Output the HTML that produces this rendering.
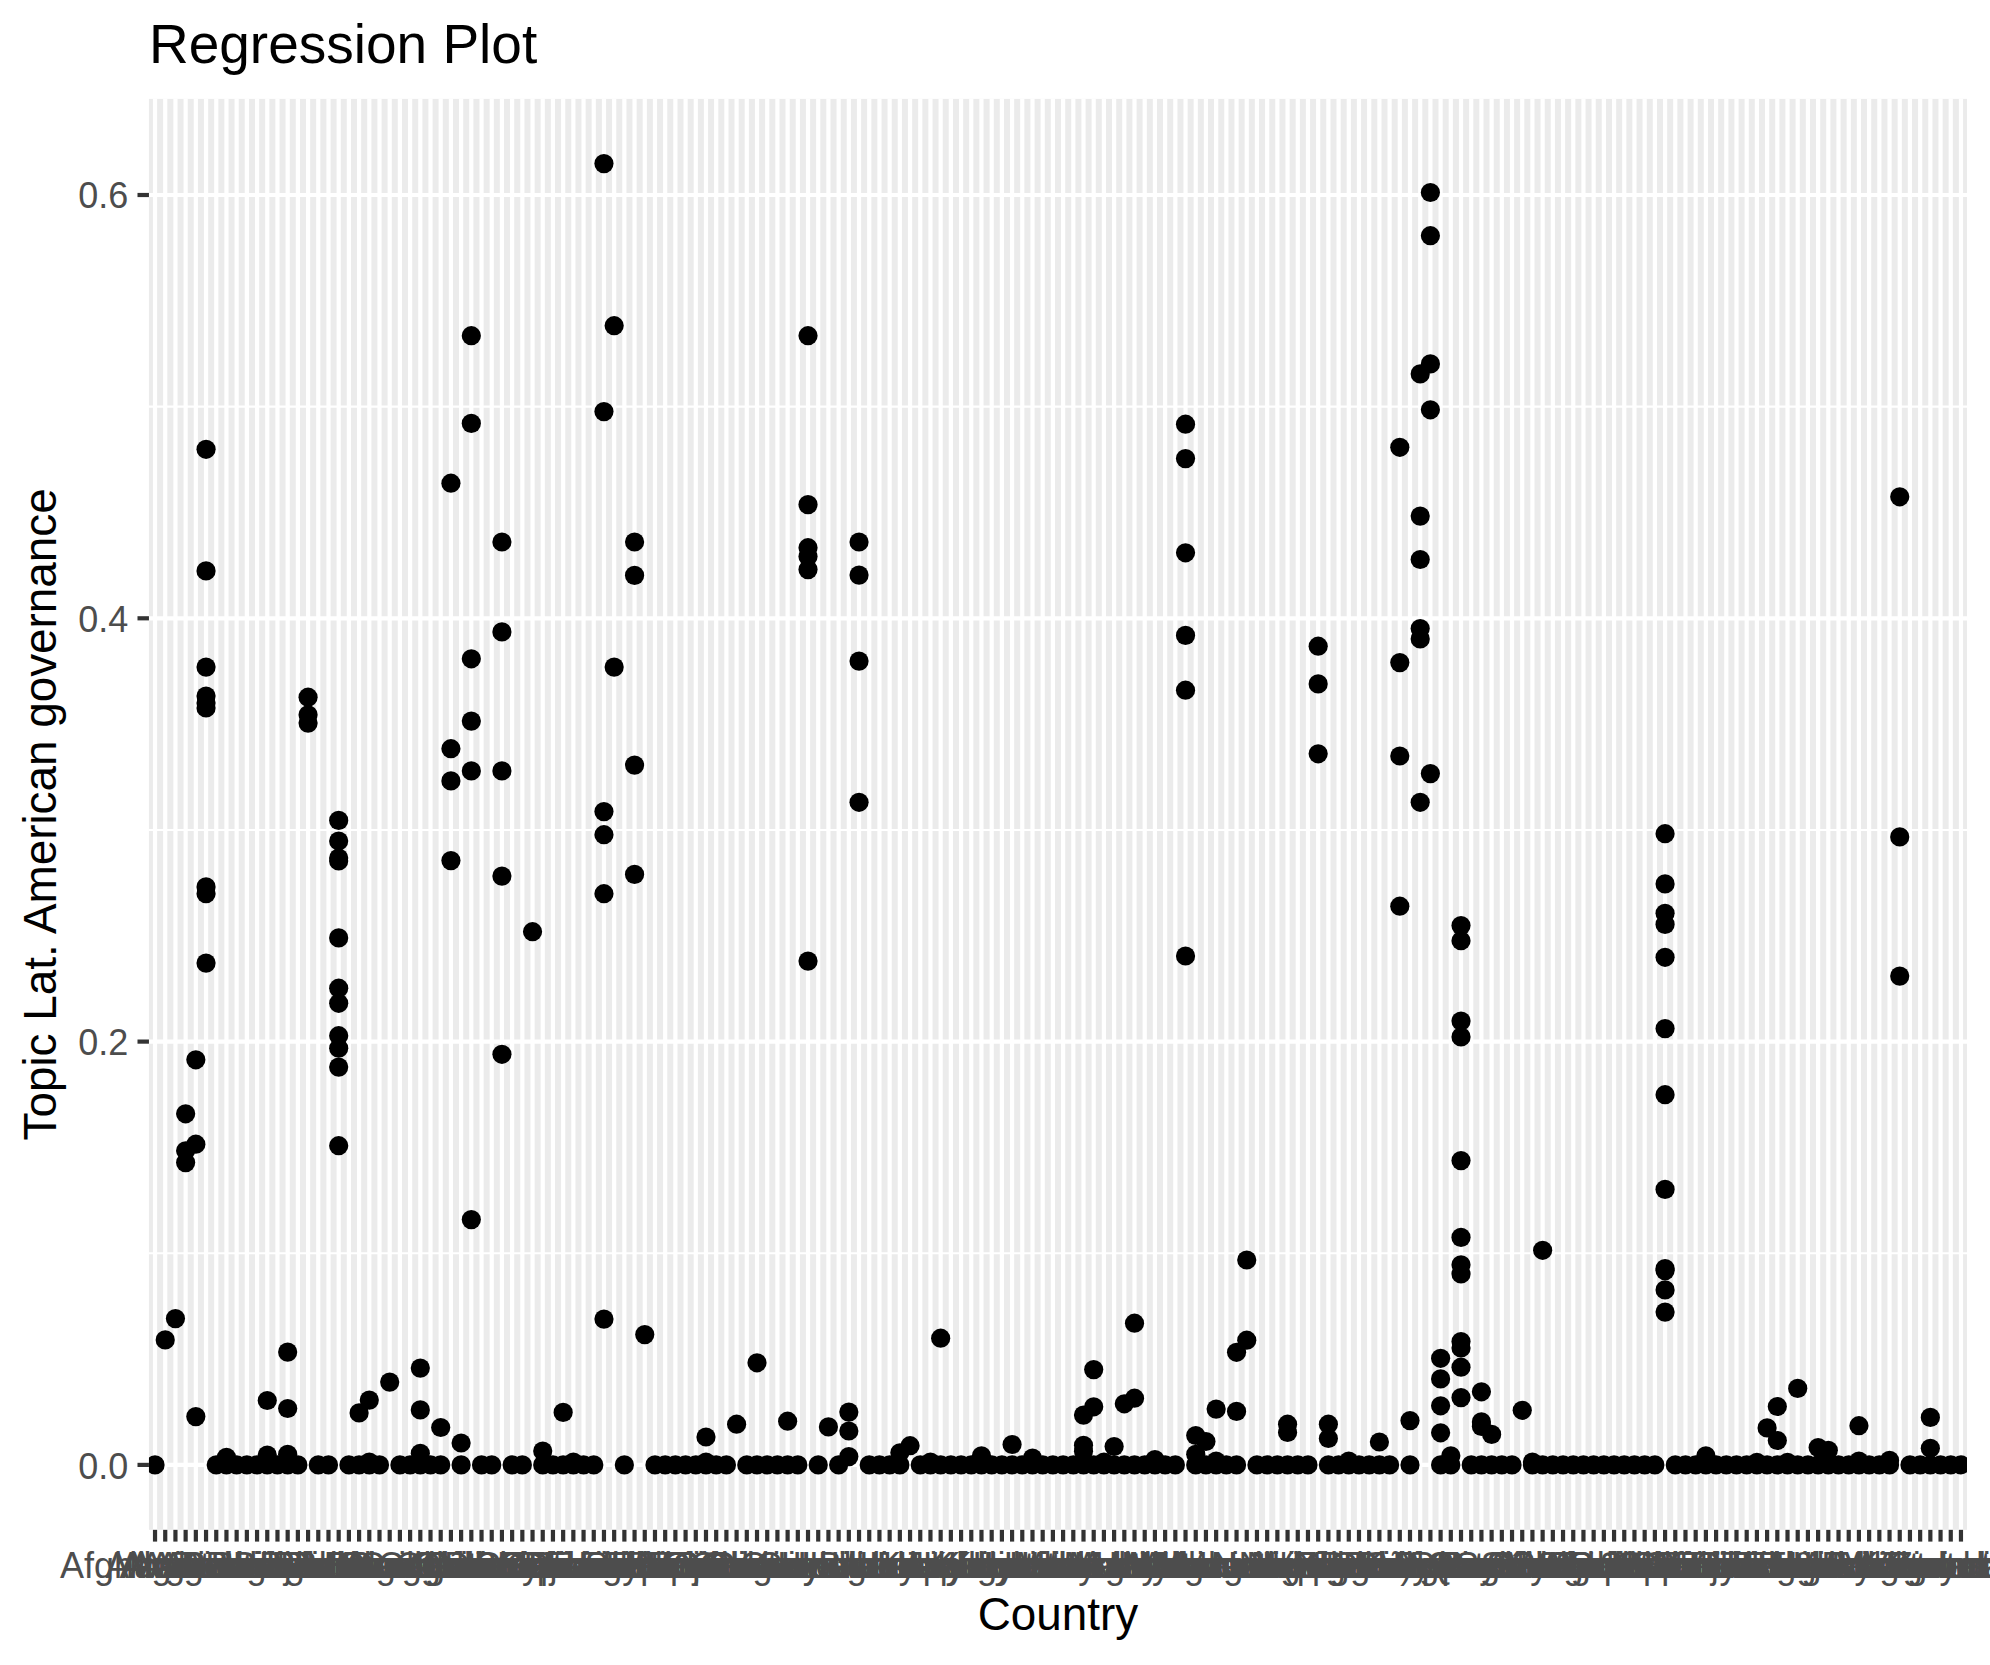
<!DOCTYPE html>
<html lang="en"><head><meta charset="utf-8"><title>Regression Plot</title>
<style>html,body{margin:0;padding:0;background:#fff}svg{display:block}text{font-family:"Liberation Sans",Arial,Helvetica,sans-serif}.xl text{font-size:36px;fill:#4d4d4d;text-anchor:middle}.yl text{font-size:36px;fill:#4d4d4d;text-anchor:end}.ttl{font-size:55px;fill:#000}.ax{font-size:45.83px;fill:#000;text-anchor:middle}</style></head><body>
<svg width="1990" height="1665" viewBox="0 0 1990 1665">
<rect width="1990" height="1665" fill="#fff"/>
<defs><clipPath id="pc"><rect x="148.95" y="98.9" width="1818.05" height="1430.95"/></clipPath></defs>
<rect x="148.95" y="98.9" width="1818.05" height="1430.95" fill="#ebebeb"/>
<g stroke="#fff" stroke-width="2.15">
<line x1="148.95" x2="1967" y1="1253.25" y2="1253.25"/>
<line x1="148.95" x2="1967" y1="829.95" y2="829.95"/>
<line x1="148.95" x2="1967" y1="406.65" y2="406.65"/>
</g>
<g stroke="#fff" stroke-width="4.2">
<line x1="148.95" x2="1967" y1="1464.9" y2="1464.9"/>
<line x1="148.95" x2="1967" y1="1041.6" y2="1041.6"/>
<line x1="148.95" x2="1967" y1="618.3" y2="618.3"/>
<line x1="148.95" x2="1967" y1="195" y2="195"/>
<line x1="155.03" x2="155.03" y1="98.9" y2="1529.85"/>
<line x1="165.23" x2="165.23" y1="98.9" y2="1529.85"/>
<line x1="175.44" x2="175.44" y1="98.9" y2="1529.85"/>
<line x1="185.64" x2="185.64" y1="98.9" y2="1529.85"/>
<line x1="195.84" x2="195.84" y1="98.9" y2="1529.85"/>
<line x1="206.05" x2="206.05" y1="98.9" y2="1529.85"/>
<line x1="216.25" x2="216.25" y1="98.9" y2="1529.85"/>
<line x1="226.45" x2="226.45" y1="98.9" y2="1529.85"/>
<line x1="236.65" x2="236.65" y1="98.9" y2="1529.85"/>
<line x1="246.86" x2="246.86" y1="98.9" y2="1529.85"/>
<line x1="257.06" x2="257.06" y1="98.9" y2="1529.85"/>
<line x1="267.26" x2="267.26" y1="98.9" y2="1529.85"/>
<line x1="277.47" x2="277.47" y1="98.9" y2="1529.85"/>
<line x1="287.67" x2="287.67" y1="98.9" y2="1529.85"/>
<line x1="297.87" x2="297.87" y1="98.9" y2="1529.85"/>
<line x1="308.07" x2="308.07" y1="98.9" y2="1529.85"/>
<line x1="318.28" x2="318.28" y1="98.9" y2="1529.85"/>
<line x1="328.48" x2="328.48" y1="98.9" y2="1529.85"/>
<line x1="338.68" x2="338.68" y1="98.9" y2="1529.85"/>
<line x1="348.89" x2="348.89" y1="98.9" y2="1529.85"/>
<line x1="359.09" x2="359.09" y1="98.9" y2="1529.85"/>
<line x1="369.29" x2="369.29" y1="98.9" y2="1529.85"/>
<line x1="379.5" x2="379.5" y1="98.9" y2="1529.85"/>
<line x1="389.7" x2="389.7" y1="98.9" y2="1529.85"/>
<line x1="399.9" x2="399.9" y1="98.9" y2="1529.85"/>
<line x1="410.11" x2="410.11" y1="98.9" y2="1529.85"/>
<line x1="420.31" x2="420.31" y1="98.9" y2="1529.85"/>
<line x1="430.51" x2="430.51" y1="98.9" y2="1529.85"/>
<line x1="440.71" x2="440.71" y1="98.9" y2="1529.85"/>
<line x1="450.92" x2="450.92" y1="98.9" y2="1529.85"/>
<line x1="461.12" x2="461.12" y1="98.9" y2="1529.85"/>
<line x1="471.32" x2="471.32" y1="98.9" y2="1529.85"/>
<line x1="481.53" x2="481.53" y1="98.9" y2="1529.85"/>
<line x1="491.73" x2="491.73" y1="98.9" y2="1529.85"/>
<line x1="501.93" x2="501.93" y1="98.9" y2="1529.85"/>
<line x1="512.13" x2="512.13" y1="98.9" y2="1529.85"/>
<line x1="522.34" x2="522.34" y1="98.9" y2="1529.85"/>
<line x1="532.54" x2="532.54" y1="98.9" y2="1529.85"/>
<line x1="542.74" x2="542.74" y1="98.9" y2="1529.85"/>
<line x1="552.95" x2="552.95" y1="98.9" y2="1529.85"/>
<line x1="563.15" x2="563.15" y1="98.9" y2="1529.85"/>
<line x1="573.35" x2="573.35" y1="98.9" y2="1529.85"/>
<line x1="583.56" x2="583.56" y1="98.9" y2="1529.85"/>
<line x1="593.76" x2="593.76" y1="98.9" y2="1529.85"/>
<line x1="603.96" x2="603.96" y1="98.9" y2="1529.85"/>
<line x1="614.16" x2="614.16" y1="98.9" y2="1529.85"/>
<line x1="624.37" x2="624.37" y1="98.9" y2="1529.85"/>
<line x1="634.57" x2="634.57" y1="98.9" y2="1529.85"/>
<line x1="644.77" x2="644.77" y1="98.9" y2="1529.85"/>
<line x1="654.98" x2="654.98" y1="98.9" y2="1529.85"/>
<line x1="665.18" x2="665.18" y1="98.9" y2="1529.85"/>
<line x1="675.38" x2="675.38" y1="98.9" y2="1529.85"/>
<line x1="685.59" x2="685.59" y1="98.9" y2="1529.85"/>
<line x1="695.79" x2="695.79" y1="98.9" y2="1529.85"/>
<line x1="705.99" x2="705.99" y1="98.9" y2="1529.85"/>
<line x1="716.19" x2="716.19" y1="98.9" y2="1529.85"/>
<line x1="726.4" x2="726.4" y1="98.9" y2="1529.85"/>
<line x1="736.6" x2="736.6" y1="98.9" y2="1529.85"/>
<line x1="746.8" x2="746.8" y1="98.9" y2="1529.85"/>
<line x1="757.01" x2="757.01" y1="98.9" y2="1529.85"/>
<line x1="767.21" x2="767.21" y1="98.9" y2="1529.85"/>
<line x1="777.41" x2="777.41" y1="98.9" y2="1529.85"/>
<line x1="787.62" x2="787.62" y1="98.9" y2="1529.85"/>
<line x1="797.82" x2="797.82" y1="98.9" y2="1529.85"/>
<line x1="808.02" x2="808.02" y1="98.9" y2="1529.85"/>
<line x1="818.22" x2="818.22" y1="98.9" y2="1529.85"/>
<line x1="828.43" x2="828.43" y1="98.9" y2="1529.85"/>
<line x1="838.63" x2="838.63" y1="98.9" y2="1529.85"/>
<line x1="848.83" x2="848.83" y1="98.9" y2="1529.85"/>
<line x1="859.04" x2="859.04" y1="98.9" y2="1529.85"/>
<line x1="869.24" x2="869.24" y1="98.9" y2="1529.85"/>
<line x1="879.44" x2="879.44" y1="98.9" y2="1529.85"/>
<line x1="889.65" x2="889.65" y1="98.9" y2="1529.85"/>
<line x1="899.85" x2="899.85" y1="98.9" y2="1529.85"/>
<line x1="910.05" x2="910.05" y1="98.9" y2="1529.85"/>
<line x1="920.25" x2="920.25" y1="98.9" y2="1529.85"/>
<line x1="930.46" x2="930.46" y1="98.9" y2="1529.85"/>
<line x1="940.66" x2="940.66" y1="98.9" y2="1529.85"/>
<line x1="950.86" x2="950.86" y1="98.9" y2="1529.85"/>
<line x1="961.07" x2="961.07" y1="98.9" y2="1529.85"/>
<line x1="971.27" x2="971.27" y1="98.9" y2="1529.85"/>
<line x1="981.47" x2="981.47" y1="98.9" y2="1529.85"/>
<line x1="991.68" x2="991.68" y1="98.9" y2="1529.85"/>
<line x1="1001.88" x2="1001.88" y1="98.9" y2="1529.85"/>
<line x1="1012.08" x2="1012.08" y1="98.9" y2="1529.85"/>
<line x1="1022.28" x2="1022.28" y1="98.9" y2="1529.85"/>
<line x1="1032.49" x2="1032.49" y1="98.9" y2="1529.85"/>
<line x1="1042.69" x2="1042.69" y1="98.9" y2="1529.85"/>
<line x1="1052.89" x2="1052.89" y1="98.9" y2="1529.85"/>
<line x1="1063.1" x2="1063.1" y1="98.9" y2="1529.85"/>
<line x1="1073.3" x2="1073.3" y1="98.9" y2="1529.85"/>
<line x1="1083.5" x2="1083.5" y1="98.9" y2="1529.85"/>
<line x1="1093.71" x2="1093.71" y1="98.9" y2="1529.85"/>
<line x1="1103.91" x2="1103.91" y1="98.9" y2="1529.85"/>
<line x1="1114.11" x2="1114.11" y1="98.9" y2="1529.85"/>
<line x1="1124.32" x2="1124.32" y1="98.9" y2="1529.85"/>
<line x1="1134.52" x2="1134.52" y1="98.9" y2="1529.85"/>
<line x1="1144.72" x2="1144.72" y1="98.9" y2="1529.85"/>
<line x1="1154.92" x2="1154.92" y1="98.9" y2="1529.85"/>
<line x1="1165.13" x2="1165.13" y1="98.9" y2="1529.85"/>
<line x1="1175.33" x2="1175.33" y1="98.9" y2="1529.85"/>
<line x1="1185.53" x2="1185.53" y1="98.9" y2="1529.85"/>
<line x1="1195.74" x2="1195.74" y1="98.9" y2="1529.85"/>
<line x1="1205.94" x2="1205.94" y1="98.9" y2="1529.85"/>
<line x1="1216.14" x2="1216.14" y1="98.9" y2="1529.85"/>
<line x1="1226.34" x2="1226.34" y1="98.9" y2="1529.85"/>
<line x1="1236.55" x2="1236.55" y1="98.9" y2="1529.85"/>
<line x1="1246.75" x2="1246.75" y1="98.9" y2="1529.85"/>
<line x1="1256.95" x2="1256.95" y1="98.9" y2="1529.85"/>
<line x1="1267.16" x2="1267.16" y1="98.9" y2="1529.85"/>
<line x1="1277.36" x2="1277.36" y1="98.9" y2="1529.85"/>
<line x1="1287.56" x2="1287.56" y1="98.9" y2="1529.85"/>
<line x1="1297.77" x2="1297.77" y1="98.9" y2="1529.85"/>
<line x1="1307.97" x2="1307.97" y1="98.9" y2="1529.85"/>
<line x1="1318.17" x2="1318.17" y1="98.9" y2="1529.85"/>
<line x1="1328.38" x2="1328.38" y1="98.9" y2="1529.85"/>
<line x1="1338.58" x2="1338.58" y1="98.9" y2="1529.85"/>
<line x1="1348.78" x2="1348.78" y1="98.9" y2="1529.85"/>
<line x1="1358.98" x2="1358.98" y1="98.9" y2="1529.85"/>
<line x1="1369.19" x2="1369.19" y1="98.9" y2="1529.85"/>
<line x1="1379.39" x2="1379.39" y1="98.9" y2="1529.85"/>
<line x1="1389.59" x2="1389.59" y1="98.9" y2="1529.85"/>
<line x1="1399.8" x2="1399.8" y1="98.9" y2="1529.85"/>
<line x1="1410" x2="1410" y1="98.9" y2="1529.85"/>
<line x1="1420.2" x2="1420.2" y1="98.9" y2="1529.85"/>
<line x1="1430.4" x2="1430.4" y1="98.9" y2="1529.85"/>
<line x1="1440.61" x2="1440.61" y1="98.9" y2="1529.85"/>
<line x1="1450.81" x2="1450.81" y1="98.9" y2="1529.85"/>
<line x1="1461.01" x2="1461.01" y1="98.9" y2="1529.85"/>
<line x1="1471.22" x2="1471.22" y1="98.9" y2="1529.85"/>
<line x1="1481.42" x2="1481.42" y1="98.9" y2="1529.85"/>
<line x1="1491.62" x2="1491.62" y1="98.9" y2="1529.85"/>
<line x1="1501.83" x2="1501.83" y1="98.9" y2="1529.85"/>
<line x1="1512.03" x2="1512.03" y1="98.9" y2="1529.85"/>
<line x1="1522.23" x2="1522.23" y1="98.9" y2="1529.85"/>
<line x1="1532.43" x2="1532.43" y1="98.9" y2="1529.85"/>
<line x1="1542.64" x2="1542.64" y1="98.9" y2="1529.85"/>
<line x1="1552.84" x2="1552.84" y1="98.9" y2="1529.85"/>
<line x1="1563.04" x2="1563.04" y1="98.9" y2="1529.85"/>
<line x1="1573.25" x2="1573.25" y1="98.9" y2="1529.85"/>
<line x1="1583.45" x2="1583.45" y1="98.9" y2="1529.85"/>
<line x1="1593.65" x2="1593.65" y1="98.9" y2="1529.85"/>
<line x1="1603.86" x2="1603.86" y1="98.9" y2="1529.85"/>
<line x1="1614.06" x2="1614.06" y1="98.9" y2="1529.85"/>
<line x1="1624.26" x2="1624.26" y1="98.9" y2="1529.85"/>
<line x1="1634.46" x2="1634.46" y1="98.9" y2="1529.85"/>
<line x1="1644.67" x2="1644.67" y1="98.9" y2="1529.85"/>
<line x1="1654.87" x2="1654.87" y1="98.9" y2="1529.85"/>
<line x1="1665.07" x2="1665.07" y1="98.9" y2="1529.85"/>
<line x1="1675.28" x2="1675.28" y1="98.9" y2="1529.85"/>
<line x1="1685.48" x2="1685.48" y1="98.9" y2="1529.85"/>
<line x1="1695.68" x2="1695.68" y1="98.9" y2="1529.85"/>
<line x1="1705.89" x2="1705.89" y1="98.9" y2="1529.85"/>
<line x1="1716.09" x2="1716.09" y1="98.9" y2="1529.85"/>
<line x1="1726.29" x2="1726.29" y1="98.9" y2="1529.85"/>
<line x1="1736.49" x2="1736.49" y1="98.9" y2="1529.85"/>
<line x1="1746.7" x2="1746.7" y1="98.9" y2="1529.85"/>
<line x1="1756.9" x2="1756.9" y1="98.9" y2="1529.85"/>
<line x1="1767.1" x2="1767.1" y1="98.9" y2="1529.85"/>
<line x1="1777.31" x2="1777.31" y1="98.9" y2="1529.85"/>
<line x1="1787.51" x2="1787.51" y1="98.9" y2="1529.85"/>
<line x1="1797.71" x2="1797.71" y1="98.9" y2="1529.85"/>
<line x1="1807.92" x2="1807.92" y1="98.9" y2="1529.85"/>
<line x1="1818.12" x2="1818.12" y1="98.9" y2="1529.85"/>
<line x1="1828.32" x2="1828.32" y1="98.9" y2="1529.85"/>
<line x1="1838.52" x2="1838.52" y1="98.9" y2="1529.85"/>
<line x1="1848.73" x2="1848.73" y1="98.9" y2="1529.85"/>
<line x1="1858.93" x2="1858.93" y1="98.9" y2="1529.85"/>
<line x1="1869.13" x2="1869.13" y1="98.9" y2="1529.85"/>
<line x1="1879.34" x2="1879.34" y1="98.9" y2="1529.85"/>
<line x1="1889.54" x2="1889.54" y1="98.9" y2="1529.85"/>
<line x1="1899.74" x2="1899.74" y1="98.9" y2="1529.85"/>
<line x1="1909.95" x2="1909.95" y1="98.9" y2="1529.85"/>
<line x1="1920.15" x2="1920.15" y1="98.9" y2="1529.85"/>
<line x1="1930.35" x2="1930.35" y1="98.9" y2="1529.85"/>
<line x1="1940.55" x2="1940.55" y1="98.9" y2="1529.85"/>
<line x1="1950.76" x2="1950.76" y1="98.9" y2="1529.85"/>
<line x1="1960.96" x2="1960.96" y1="98.9" y2="1529.85"/>
</g>
<g clip-path="url(#pc)" fill="#000">
<circle cx="155.03" cy="1464.9" r="9.6"/>
<circle cx="216.25" cy="1464.9" r="9.6"/>
<circle cx="226.45" cy="1464.9" r="9.6"/>
<circle cx="236.65" cy="1464.9" r="9.6"/>
<circle cx="246.86" cy="1464.9" r="9.6"/>
<circle cx="257.06" cy="1464.9" r="9.6"/>
<circle cx="267.26" cy="1464.9" r="9.6"/>
<circle cx="277.47" cy="1464.9" r="9.6"/>
<circle cx="287.67" cy="1464.9" r="9.6"/>
<circle cx="297.87" cy="1464.9" r="9.6"/>
<circle cx="318.28" cy="1464.9" r="9.6"/>
<circle cx="328.48" cy="1464.9" r="9.6"/>
<circle cx="348.89" cy="1464.9" r="9.6"/>
<circle cx="359.09" cy="1464.9" r="9.6"/>
<circle cx="369.29" cy="1464.9" r="9.6"/>
<circle cx="379.5" cy="1464.9" r="9.6"/>
<circle cx="399.9" cy="1464.9" r="9.6"/>
<circle cx="410.11" cy="1464.9" r="9.6"/>
<circle cx="420.31" cy="1464.9" r="9.6"/>
<circle cx="430.51" cy="1464.9" r="9.6"/>
<circle cx="440.71" cy="1464.9" r="9.6"/>
<circle cx="461.12" cy="1464.9" r="9.6"/>
<circle cx="481.53" cy="1464.9" r="9.6"/>
<circle cx="491.73" cy="1464.9" r="9.6"/>
<circle cx="512.13" cy="1464.9" r="9.6"/>
<circle cx="522.34" cy="1464.9" r="9.6"/>
<circle cx="542.74" cy="1464.9" r="9.6"/>
<circle cx="552.95" cy="1464.9" r="9.6"/>
<circle cx="563.15" cy="1464.9" r="9.6"/>
<circle cx="573.35" cy="1464.9" r="9.6"/>
<circle cx="583.56" cy="1464.9" r="9.6"/>
<circle cx="593.76" cy="1464.9" r="9.6"/>
<circle cx="624.37" cy="1464.9" r="9.6"/>
<circle cx="654.98" cy="1464.9" r="9.6"/>
<circle cx="665.18" cy="1464.9" r="9.6"/>
<circle cx="675.38" cy="1464.9" r="9.6"/>
<circle cx="685.59" cy="1464.9" r="9.6"/>
<circle cx="695.79" cy="1464.9" r="9.6"/>
<circle cx="705.99" cy="1464.9" r="9.6"/>
<circle cx="716.19" cy="1464.9" r="9.6"/>
<circle cx="726.4" cy="1464.9" r="9.6"/>
<circle cx="746.8" cy="1464.9" r="9.6"/>
<circle cx="757.01" cy="1464.9" r="9.6"/>
<circle cx="767.21" cy="1464.9" r="9.6"/>
<circle cx="777.41" cy="1464.9" r="9.6"/>
<circle cx="787.62" cy="1464.9" r="9.6"/>
<circle cx="797.82" cy="1464.9" r="9.6"/>
<circle cx="818.22" cy="1464.9" r="9.6"/>
<circle cx="838.63" cy="1464.9" r="9.6"/>
<circle cx="869.24" cy="1464.9" r="9.6"/>
<circle cx="879.44" cy="1464.9" r="9.6"/>
<circle cx="889.65" cy="1464.9" r="9.6"/>
<circle cx="899.85" cy="1464.9" r="9.6"/>
<circle cx="920.25" cy="1464.9" r="9.6"/>
<circle cx="930.46" cy="1464.9" r="9.6"/>
<circle cx="940.66" cy="1464.9" r="9.6"/>
<circle cx="950.86" cy="1464.9" r="9.6"/>
<circle cx="961.07" cy="1464.9" r="9.6"/>
<circle cx="971.27" cy="1464.9" r="9.6"/>
<circle cx="981.47" cy="1464.9" r="9.6"/>
<circle cx="991.68" cy="1464.9" r="9.6"/>
<circle cx="1001.88" cy="1464.9" r="9.6"/>
<circle cx="1012.08" cy="1464.9" r="9.6"/>
<circle cx="1022.28" cy="1464.9" r="9.6"/>
<circle cx="1032.49" cy="1464.9" r="9.6"/>
<circle cx="1042.69" cy="1464.9" r="9.6"/>
<circle cx="1052.89" cy="1464.9" r="9.6"/>
<circle cx="1063.1" cy="1464.9" r="9.6"/>
<circle cx="1073.3" cy="1464.9" r="9.6"/>
<circle cx="1083.5" cy="1464.9" r="9.6"/>
<circle cx="1093.71" cy="1464.9" r="9.6"/>
<circle cx="1103.91" cy="1464.9" r="9.6"/>
<circle cx="1114.11" cy="1464.9" r="9.6"/>
<circle cx="1124.32" cy="1464.9" r="9.6"/>
<circle cx="1134.52" cy="1464.9" r="9.6"/>
<circle cx="1144.72" cy="1464.9" r="9.6"/>
<circle cx="1154.92" cy="1464.9" r="9.6"/>
<circle cx="1165.13" cy="1464.9" r="9.6"/>
<circle cx="1175.33" cy="1464.9" r="9.6"/>
<circle cx="1195.74" cy="1464.9" r="9.6"/>
<circle cx="1205.94" cy="1464.9" r="9.6"/>
<circle cx="1216.14" cy="1464.9" r="9.6"/>
<circle cx="1226.34" cy="1464.9" r="9.6"/>
<circle cx="1236.55" cy="1464.9" r="9.6"/>
<circle cx="1256.95" cy="1464.9" r="9.6"/>
<circle cx="1267.16" cy="1464.9" r="9.6"/>
<circle cx="1277.36" cy="1464.9" r="9.6"/>
<circle cx="1287.56" cy="1464.9" r="9.6"/>
<circle cx="1297.77" cy="1464.9" r="9.6"/>
<circle cx="1307.97" cy="1464.9" r="9.6"/>
<circle cx="1328.38" cy="1464.9" r="9.6"/>
<circle cx="1338.58" cy="1464.9" r="9.6"/>
<circle cx="1348.78" cy="1464.9" r="9.6"/>
<circle cx="1358.98" cy="1464.9" r="9.6"/>
<circle cx="1369.19" cy="1464.9" r="9.6"/>
<circle cx="1379.39" cy="1464.9" r="9.6"/>
<circle cx="1389.59" cy="1464.9" r="9.6"/>
<circle cx="1410" cy="1464.9" r="9.6"/>
<circle cx="1440.61" cy="1464.9" r="9.6"/>
<circle cx="1450.81" cy="1464.9" r="9.6"/>
<circle cx="1471.22" cy="1464.9" r="9.6"/>
<circle cx="1481.42" cy="1464.9" r="9.6"/>
<circle cx="1491.62" cy="1464.9" r="9.6"/>
<circle cx="1501.83" cy="1464.9" r="9.6"/>
<circle cx="1512.03" cy="1464.9" r="9.6"/>
<circle cx="1532.43" cy="1464.9" r="9.6"/>
<circle cx="1542.64" cy="1464.9" r="9.6"/>
<circle cx="1552.84" cy="1464.9" r="9.6"/>
<circle cx="1563.04" cy="1464.9" r="9.6"/>
<circle cx="1573.25" cy="1464.9" r="9.6"/>
<circle cx="1583.45" cy="1464.9" r="9.6"/>
<circle cx="1593.65" cy="1464.9" r="9.6"/>
<circle cx="1603.86" cy="1464.9" r="9.6"/>
<circle cx="1614.06" cy="1464.9" r="9.6"/>
<circle cx="1624.26" cy="1464.9" r="9.6"/>
<circle cx="1634.46" cy="1464.9" r="9.6"/>
<circle cx="1644.67" cy="1464.9" r="9.6"/>
<circle cx="1654.87" cy="1464.9" r="9.6"/>
<circle cx="1675.28" cy="1464.9" r="9.6"/>
<circle cx="1685.48" cy="1464.9" r="9.6"/>
<circle cx="1695.68" cy="1464.9" r="9.6"/>
<circle cx="1705.89" cy="1464.9" r="9.6"/>
<circle cx="1716.09" cy="1464.9" r="9.6"/>
<circle cx="1726.29" cy="1464.9" r="9.6"/>
<circle cx="1736.49" cy="1464.9" r="9.6"/>
<circle cx="1746.7" cy="1464.9" r="9.6"/>
<circle cx="1756.9" cy="1464.9" r="9.6"/>
<circle cx="1767.1" cy="1464.9" r="9.6"/>
<circle cx="1777.31" cy="1464.9" r="9.6"/>
<circle cx="1787.51" cy="1464.9" r="9.6"/>
<circle cx="1797.71" cy="1464.9" r="9.6"/>
<circle cx="1807.92" cy="1464.9" r="9.6"/>
<circle cx="1818.12" cy="1464.9" r="9.6"/>
<circle cx="1828.32" cy="1464.9" r="9.6"/>
<circle cx="1838.52" cy="1464.9" r="9.6"/>
<circle cx="1848.73" cy="1464.9" r="9.6"/>
<circle cx="1858.93" cy="1464.9" r="9.6"/>
<circle cx="1869.13" cy="1464.9" r="9.6"/>
<circle cx="1879.34" cy="1464.9" r="9.6"/>
<circle cx="1889.54" cy="1464.9" r="9.6"/>
<circle cx="1909.95" cy="1464.9" r="9.6"/>
<circle cx="1920.15" cy="1464.9" r="9.6"/>
<circle cx="1930.35" cy="1464.9" r="9.6"/>
<circle cx="1940.55" cy="1464.9" r="9.6"/>
<circle cx="1950.76" cy="1464.9" r="9.6"/>
<circle cx="1960.96" cy="1464.9" r="9.6"/>
<circle cx="165.23" cy="1339.9" r="9.6"/>
<circle cx="175.44" cy="1318.6" r="9.6"/>
<circle cx="185.64" cy="1113.8" r="9.6"/>
<circle cx="185.64" cy="1150.8" r="9.6"/>
<circle cx="185.64" cy="1162.6" r="9.6"/>
<circle cx="195.84" cy="1059.8" r="9.6"/>
<circle cx="195.84" cy="1144.2" r="9.6"/>
<circle cx="195.84" cy="1416.6" r="9.6"/>
<circle cx="206.05" cy="449.3" r="9.6"/>
<circle cx="206.05" cy="570.9" r="9.6"/>
<circle cx="206.05" cy="667.1" r="9.6"/>
<circle cx="206.05" cy="696" r="9.6"/>
<circle cx="206.05" cy="703" r="9.6"/>
<circle cx="206.05" cy="708" r="9.6"/>
<circle cx="206.05" cy="886.9" r="9.6"/>
<circle cx="206.05" cy="893.7" r="9.6"/>
<circle cx="206.05" cy="963.1" r="9.6"/>
<circle cx="226.45" cy="1457.3" r="9.6"/>
<circle cx="267.26" cy="1400.5" r="9.6"/>
<circle cx="267.26" cy="1455.1" r="9.6"/>
<circle cx="287.67" cy="1352.1" r="9.6"/>
<circle cx="287.67" cy="1408.5" r="9.6"/>
<circle cx="287.67" cy="1454.3" r="9.6"/>
<circle cx="308.07" cy="697.2" r="9.6"/>
<circle cx="308.07" cy="714.8" r="9.6"/>
<circle cx="308.07" cy="723.1" r="9.6"/>
<circle cx="338.68" cy="820.4" r="9.6"/>
<circle cx="338.68" cy="841" r="9.6"/>
<circle cx="338.68" cy="858" r="9.6"/>
<circle cx="338.68" cy="861" r="9.6"/>
<circle cx="338.68" cy="937.9" r="9.6"/>
<circle cx="338.68" cy="988.2" r="9.6"/>
<circle cx="338.68" cy="1003.3" r="9.6"/>
<circle cx="338.68" cy="1035.7" r="9.6"/>
<circle cx="338.68" cy="1048.2" r="9.6"/>
<circle cx="338.68" cy="1067.1" r="9.6"/>
<circle cx="338.68" cy="1145.7" r="9.6"/>
<circle cx="359.09" cy="1412.9" r="9.6"/>
<circle cx="369.29" cy="1400.1" r="9.6"/>
<circle cx="369.29" cy="1462" r="9.6"/>
<circle cx="389.7" cy="1382.1" r="9.6"/>
<circle cx="420.31" cy="1368.1" r="9.6"/>
<circle cx="420.31" cy="1409.9" r="9.6"/>
<circle cx="420.31" cy="1453.3" r="9.6"/>
<circle cx="440.71" cy="1427.5" r="9.6"/>
<circle cx="450.92" cy="483.2" r="9.6"/>
<circle cx="450.92" cy="748.7" r="9.6"/>
<circle cx="450.92" cy="780.9" r="9.6"/>
<circle cx="450.92" cy="860.6" r="9.6"/>
<circle cx="461.12" cy="1443" r="9.6"/>
<circle cx="471.32" cy="335.7" r="9.6"/>
<circle cx="471.32" cy="423.4" r="9.6"/>
<circle cx="471.32" cy="658.8" r="9.6"/>
<circle cx="471.32" cy="721.1" r="9.6"/>
<circle cx="471.32" cy="770.9" r="9.6"/>
<circle cx="471.32" cy="1219.6" r="9.6"/>
<circle cx="501.93" cy="542" r="9.6"/>
<circle cx="501.93" cy="631.9" r="9.6"/>
<circle cx="501.93" cy="770.9" r="9.6"/>
<circle cx="501.93" cy="876.1" r="9.6"/>
<circle cx="501.93" cy="1054.3" r="9.6"/>
<circle cx="532.54" cy="931.7" r="9.6"/>
<circle cx="542.74" cy="1451" r="9.6"/>
<circle cx="563.15" cy="1412.4" r="9.6"/>
<circle cx="573.35" cy="1462" r="9.6"/>
<circle cx="603.96" cy="163.6" r="9.6"/>
<circle cx="603.96" cy="411.6" r="9.6"/>
<circle cx="603.96" cy="811.6" r="9.6"/>
<circle cx="603.96" cy="834.7" r="9.6"/>
<circle cx="603.96" cy="893.7" r="9.6"/>
<circle cx="603.96" cy="1319.1" r="9.6"/>
<circle cx="614.16" cy="325.7" r="9.6"/>
<circle cx="614.16" cy="667.1" r="9.6"/>
<circle cx="634.57" cy="542" r="9.6"/>
<circle cx="634.57" cy="575.4" r="9.6"/>
<circle cx="634.57" cy="765.1" r="9.6"/>
<circle cx="634.57" cy="874.4" r="9.6"/>
<circle cx="644.77" cy="1334.6" r="9.6"/>
<circle cx="705.99" cy="1437" r="9.6"/>
<circle cx="705.99" cy="1462" r="9.6"/>
<circle cx="736.6" cy="1424.2" r="9.6"/>
<circle cx="757.01" cy="1362.8" r="9.6"/>
<circle cx="787.62" cy="1421.2" r="9.6"/>
<circle cx="808.02" cy="335.7" r="9.6"/>
<circle cx="808.02" cy="504.6" r="9.6"/>
<circle cx="808.02" cy="547.7" r="9.6"/>
<circle cx="808.02" cy="556.5" r="9.6"/>
<circle cx="808.02" cy="569.6" r="9.6"/>
<circle cx="808.02" cy="961.1" r="9.6"/>
<circle cx="828.43" cy="1426.9" r="9.6"/>
<circle cx="848.83" cy="1412.1" r="9.6"/>
<circle cx="848.83" cy="1431" r="9.6"/>
<circle cx="848.83" cy="1456.6" r="9.6"/>
<circle cx="859.04" cy="542" r="9.6"/>
<circle cx="859.04" cy="575.1" r="9.6"/>
<circle cx="859.04" cy="661.1" r="9.6"/>
<circle cx="859.04" cy="802.3" r="9.6"/>
<circle cx="899.85" cy="1452.8" r="9.6"/>
<circle cx="910.05" cy="1445.7" r="9.6"/>
<circle cx="930.46" cy="1462" r="9.6"/>
<circle cx="940.66" cy="1338.2" r="9.6"/>
<circle cx="981.47" cy="1455.8" r="9.6"/>
<circle cx="1012.08" cy="1444.5" r="9.6"/>
<circle cx="1032.49" cy="1458" r="9.6"/>
<circle cx="1083.5" cy="1415.1" r="9.6"/>
<circle cx="1083.5" cy="1445.3" r="9.6"/>
<circle cx="1083.5" cy="1451.3" r="9.6"/>
<circle cx="1093.71" cy="1369.6" r="9.6"/>
<circle cx="1093.71" cy="1406.8" r="9.6"/>
<circle cx="1103.91" cy="1462" r="9.6"/>
<circle cx="1114.11" cy="1446.5" r="9.6"/>
<circle cx="1124.32" cy="1403.8" r="9.6"/>
<circle cx="1134.52" cy="1323.2" r="9.6"/>
<circle cx="1134.52" cy="1398.2" r="9.6"/>
<circle cx="1154.92" cy="1459.6" r="9.6"/>
<circle cx="1185.53" cy="424.2" r="9.6"/>
<circle cx="1185.53" cy="458.6" r="9.6"/>
<circle cx="1185.53" cy="552.8" r="9.6"/>
<circle cx="1185.53" cy="635.4" r="9.6"/>
<circle cx="1185.53" cy="690.2" r="9.6"/>
<circle cx="1185.53" cy="956" r="9.6"/>
<circle cx="1195.74" cy="1435.5" r="9.6"/>
<circle cx="1195.74" cy="1454.3" r="9.6"/>
<circle cx="1205.94" cy="1441.5" r="9.6"/>
<circle cx="1216.14" cy="1409.1" r="9.6"/>
<circle cx="1216.14" cy="1461" r="9.6"/>
<circle cx="1236.55" cy="1352.3" r="9.6"/>
<circle cx="1236.55" cy="1411.4" r="9.6"/>
<circle cx="1246.75" cy="1260" r="9.6"/>
<circle cx="1246.75" cy="1340.2" r="9.6"/>
<circle cx="1287.56" cy="1424.2" r="9.6"/>
<circle cx="1287.56" cy="1432.5" r="9.6"/>
<circle cx="1318.17" cy="646.2" r="9.6"/>
<circle cx="1318.17" cy="683.9" r="9.6"/>
<circle cx="1318.17" cy="753.8" r="9.6"/>
<circle cx="1328.38" cy="1424.2" r="9.6"/>
<circle cx="1328.38" cy="1438.5" r="9.6"/>
<circle cx="1348.78" cy="1461" r="9.6"/>
<circle cx="1379.39" cy="1442" r="9.6"/>
<circle cx="1399.8" cy="447.3" r="9.6"/>
<circle cx="1399.8" cy="662.6" r="9.6"/>
<circle cx="1399.8" cy="756" r="9.6"/>
<circle cx="1399.8" cy="906.2" r="9.6"/>
<circle cx="1410" cy="1420.6" r="9.6"/>
<circle cx="1420.2" cy="373.9" r="9.6"/>
<circle cx="1420.2" cy="516.1" r="9.6"/>
<circle cx="1420.2" cy="559.5" r="9.6"/>
<circle cx="1420.2" cy="628.6" r="9.6"/>
<circle cx="1420.2" cy="638.9" r="9.6"/>
<circle cx="1420.2" cy="802.3" r="9.6"/>
<circle cx="1430.4" cy="192.5" r="9.6"/>
<circle cx="1430.4" cy="235.7" r="9.6"/>
<circle cx="1430.4" cy="363.9" r="9.6"/>
<circle cx="1430.4" cy="409.8" r="9.6"/>
<circle cx="1430.4" cy="773.6" r="9.6"/>
<circle cx="1440.61" cy="1358.3" r="9.6"/>
<circle cx="1440.61" cy="1378.9" r="9.6"/>
<circle cx="1440.61" cy="1405.8" r="9.6"/>
<circle cx="1440.61" cy="1432.8" r="9.6"/>
<circle cx="1450.81" cy="1455.8" r="9.6"/>
<circle cx="1461.01" cy="925.6" r="9.6"/>
<circle cx="1461.01" cy="940.7" r="9.6"/>
<circle cx="1461.01" cy="1021.1" r="9.6"/>
<circle cx="1461.01" cy="1036.9" r="9.6"/>
<circle cx="1461.01" cy="1160.6" r="9.6"/>
<circle cx="1461.01" cy="1237.4" r="9.6"/>
<circle cx="1461.01" cy="1264.8" r="9.6"/>
<circle cx="1461.01" cy="1273.9" r="9.6"/>
<circle cx="1461.01" cy="1341.6" r="9.6"/>
<circle cx="1461.01" cy="1348" r="9.6"/>
<circle cx="1461.01" cy="1367.2" r="9.6"/>
<circle cx="1461.01" cy="1397.6" r="9.6"/>
<circle cx="1481.42" cy="1391.8" r="9.6"/>
<circle cx="1481.42" cy="1421.9" r="9.6"/>
<circle cx="1481.42" cy="1426.4" r="9.6"/>
<circle cx="1491.62" cy="1434.4" r="9.6"/>
<circle cx="1522.23" cy="1410.3" r="9.6"/>
<circle cx="1532.43" cy="1462" r="9.6"/>
<circle cx="1542.64" cy="1250.3" r="9.6"/>
<circle cx="1665.07" cy="833.7" r="9.6"/>
<circle cx="1665.07" cy="883.9" r="9.6"/>
<circle cx="1665.07" cy="913.3" r="9.6"/>
<circle cx="1665.07" cy="924.4" r="9.6"/>
<circle cx="1665.07" cy="957.3" r="9.6"/>
<circle cx="1665.07" cy="1028.6" r="9.6"/>
<circle cx="1665.07" cy="1094.7" r="9.6"/>
<circle cx="1665.07" cy="1189.4" r="9.6"/>
<circle cx="1665.07" cy="1268.6" r="9.6"/>
<circle cx="1665.07" cy="1270.6" r="9.6"/>
<circle cx="1665.07" cy="1289.9" r="9.6"/>
<circle cx="1665.07" cy="1312.1" r="9.6"/>
<circle cx="1705.89" cy="1455.8" r="9.6"/>
<circle cx="1756.9" cy="1462.3" r="9.6"/>
<circle cx="1767.1" cy="1427.9" r="9.6"/>
<circle cx="1777.31" cy="1406.5" r="9.6"/>
<circle cx="1777.31" cy="1440.5" r="9.6"/>
<circle cx="1787.51" cy="1462.3" r="9.6"/>
<circle cx="1797.71" cy="1388.4" r="9.6"/>
<circle cx="1818.12" cy="1447.5" r="9.6"/>
<circle cx="1828.32" cy="1450.3" r="9.6"/>
<circle cx="1858.93" cy="1425.7" r="9.6"/>
<circle cx="1858.93" cy="1461" r="9.6"/>
<circle cx="1889.54" cy="1460.4" r="9.6"/>
<circle cx="1899.74" cy="496.8" r="9.6"/>
<circle cx="1899.74" cy="836.9" r="9.6"/>
<circle cx="1899.74" cy="976.1" r="9.6"/>
<circle cx="1930.35" cy="1417.4" r="9.6"/>
<circle cx="1930.35" cy="1448.3" r="9.6"/>
</g>
<g stroke="#333" stroke-width="4.2">
<line x1="155.03" x2="155.03" y1="1529.85" y2="1541.6"/>
<line x1="165.23" x2="165.23" y1="1529.85" y2="1541.6"/>
<line x1="175.44" x2="175.44" y1="1529.85" y2="1541.6"/>
<line x1="185.64" x2="185.64" y1="1529.85" y2="1541.6"/>
<line x1="195.84" x2="195.84" y1="1529.85" y2="1541.6"/>
<line x1="206.05" x2="206.05" y1="1529.85" y2="1541.6"/>
<line x1="216.25" x2="216.25" y1="1529.85" y2="1541.6"/>
<line x1="226.45" x2="226.45" y1="1529.85" y2="1541.6"/>
<line x1="236.65" x2="236.65" y1="1529.85" y2="1541.6"/>
<line x1="246.86" x2="246.86" y1="1529.85" y2="1541.6"/>
<line x1="257.06" x2="257.06" y1="1529.85" y2="1541.6"/>
<line x1="267.26" x2="267.26" y1="1529.85" y2="1541.6"/>
<line x1="277.47" x2="277.47" y1="1529.85" y2="1541.6"/>
<line x1="287.67" x2="287.67" y1="1529.85" y2="1541.6"/>
<line x1="297.87" x2="297.87" y1="1529.85" y2="1541.6"/>
<line x1="308.07" x2="308.07" y1="1529.85" y2="1541.6"/>
<line x1="318.28" x2="318.28" y1="1529.85" y2="1541.6"/>
<line x1="328.48" x2="328.48" y1="1529.85" y2="1541.6"/>
<line x1="338.68" x2="338.68" y1="1529.85" y2="1541.6"/>
<line x1="348.89" x2="348.89" y1="1529.85" y2="1541.6"/>
<line x1="359.09" x2="359.09" y1="1529.85" y2="1541.6"/>
<line x1="369.29" x2="369.29" y1="1529.85" y2="1541.6"/>
<line x1="379.5" x2="379.5" y1="1529.85" y2="1541.6"/>
<line x1="389.7" x2="389.7" y1="1529.85" y2="1541.6"/>
<line x1="399.9" x2="399.9" y1="1529.85" y2="1541.6"/>
<line x1="410.11" x2="410.11" y1="1529.85" y2="1541.6"/>
<line x1="420.31" x2="420.31" y1="1529.85" y2="1541.6"/>
<line x1="430.51" x2="430.51" y1="1529.85" y2="1541.6"/>
<line x1="440.71" x2="440.71" y1="1529.85" y2="1541.6"/>
<line x1="450.92" x2="450.92" y1="1529.85" y2="1541.6"/>
<line x1="461.12" x2="461.12" y1="1529.85" y2="1541.6"/>
<line x1="471.32" x2="471.32" y1="1529.85" y2="1541.6"/>
<line x1="481.53" x2="481.53" y1="1529.85" y2="1541.6"/>
<line x1="491.73" x2="491.73" y1="1529.85" y2="1541.6"/>
<line x1="501.93" x2="501.93" y1="1529.85" y2="1541.6"/>
<line x1="512.13" x2="512.13" y1="1529.85" y2="1541.6"/>
<line x1="522.34" x2="522.34" y1="1529.85" y2="1541.6"/>
<line x1="532.54" x2="532.54" y1="1529.85" y2="1541.6"/>
<line x1="542.74" x2="542.74" y1="1529.85" y2="1541.6"/>
<line x1="552.95" x2="552.95" y1="1529.85" y2="1541.6"/>
<line x1="563.15" x2="563.15" y1="1529.85" y2="1541.6"/>
<line x1="573.35" x2="573.35" y1="1529.85" y2="1541.6"/>
<line x1="583.56" x2="583.56" y1="1529.85" y2="1541.6"/>
<line x1="593.76" x2="593.76" y1="1529.85" y2="1541.6"/>
<line x1="603.96" x2="603.96" y1="1529.85" y2="1541.6"/>
<line x1="614.16" x2="614.16" y1="1529.85" y2="1541.6"/>
<line x1="624.37" x2="624.37" y1="1529.85" y2="1541.6"/>
<line x1="634.57" x2="634.57" y1="1529.85" y2="1541.6"/>
<line x1="644.77" x2="644.77" y1="1529.85" y2="1541.6"/>
<line x1="654.98" x2="654.98" y1="1529.85" y2="1541.6"/>
<line x1="665.18" x2="665.18" y1="1529.85" y2="1541.6"/>
<line x1="675.38" x2="675.38" y1="1529.85" y2="1541.6"/>
<line x1="685.59" x2="685.59" y1="1529.85" y2="1541.6"/>
<line x1="695.79" x2="695.79" y1="1529.85" y2="1541.6"/>
<line x1="705.99" x2="705.99" y1="1529.85" y2="1541.6"/>
<line x1="716.19" x2="716.19" y1="1529.85" y2="1541.6"/>
<line x1="726.4" x2="726.4" y1="1529.85" y2="1541.6"/>
<line x1="736.6" x2="736.6" y1="1529.85" y2="1541.6"/>
<line x1="746.8" x2="746.8" y1="1529.85" y2="1541.6"/>
<line x1="757.01" x2="757.01" y1="1529.85" y2="1541.6"/>
<line x1="767.21" x2="767.21" y1="1529.85" y2="1541.6"/>
<line x1="777.41" x2="777.41" y1="1529.85" y2="1541.6"/>
<line x1="787.62" x2="787.62" y1="1529.85" y2="1541.6"/>
<line x1="797.82" x2="797.82" y1="1529.85" y2="1541.6"/>
<line x1="808.02" x2="808.02" y1="1529.85" y2="1541.6"/>
<line x1="818.22" x2="818.22" y1="1529.85" y2="1541.6"/>
<line x1="828.43" x2="828.43" y1="1529.85" y2="1541.6"/>
<line x1="838.63" x2="838.63" y1="1529.85" y2="1541.6"/>
<line x1="848.83" x2="848.83" y1="1529.85" y2="1541.6"/>
<line x1="859.04" x2="859.04" y1="1529.85" y2="1541.6"/>
<line x1="869.24" x2="869.24" y1="1529.85" y2="1541.6"/>
<line x1="879.44" x2="879.44" y1="1529.85" y2="1541.6"/>
<line x1="889.65" x2="889.65" y1="1529.85" y2="1541.6"/>
<line x1="899.85" x2="899.85" y1="1529.85" y2="1541.6"/>
<line x1="910.05" x2="910.05" y1="1529.85" y2="1541.6"/>
<line x1="920.25" x2="920.25" y1="1529.85" y2="1541.6"/>
<line x1="930.46" x2="930.46" y1="1529.85" y2="1541.6"/>
<line x1="940.66" x2="940.66" y1="1529.85" y2="1541.6"/>
<line x1="950.86" x2="950.86" y1="1529.85" y2="1541.6"/>
<line x1="961.07" x2="961.07" y1="1529.85" y2="1541.6"/>
<line x1="971.27" x2="971.27" y1="1529.85" y2="1541.6"/>
<line x1="981.47" x2="981.47" y1="1529.85" y2="1541.6"/>
<line x1="991.68" x2="991.68" y1="1529.85" y2="1541.6"/>
<line x1="1001.88" x2="1001.88" y1="1529.85" y2="1541.6"/>
<line x1="1012.08" x2="1012.08" y1="1529.85" y2="1541.6"/>
<line x1="1022.28" x2="1022.28" y1="1529.85" y2="1541.6"/>
<line x1="1032.49" x2="1032.49" y1="1529.85" y2="1541.6"/>
<line x1="1042.69" x2="1042.69" y1="1529.85" y2="1541.6"/>
<line x1="1052.89" x2="1052.89" y1="1529.85" y2="1541.6"/>
<line x1="1063.1" x2="1063.1" y1="1529.85" y2="1541.6"/>
<line x1="1073.3" x2="1073.3" y1="1529.85" y2="1541.6"/>
<line x1="1083.5" x2="1083.5" y1="1529.85" y2="1541.6"/>
<line x1="1093.71" x2="1093.71" y1="1529.85" y2="1541.6"/>
<line x1="1103.91" x2="1103.91" y1="1529.85" y2="1541.6"/>
<line x1="1114.11" x2="1114.11" y1="1529.85" y2="1541.6"/>
<line x1="1124.32" x2="1124.32" y1="1529.85" y2="1541.6"/>
<line x1="1134.52" x2="1134.52" y1="1529.85" y2="1541.6"/>
<line x1="1144.72" x2="1144.72" y1="1529.85" y2="1541.6"/>
<line x1="1154.92" x2="1154.92" y1="1529.85" y2="1541.6"/>
<line x1="1165.13" x2="1165.13" y1="1529.85" y2="1541.6"/>
<line x1="1175.33" x2="1175.33" y1="1529.85" y2="1541.6"/>
<line x1="1185.53" x2="1185.53" y1="1529.85" y2="1541.6"/>
<line x1="1195.74" x2="1195.74" y1="1529.85" y2="1541.6"/>
<line x1="1205.94" x2="1205.94" y1="1529.85" y2="1541.6"/>
<line x1="1216.14" x2="1216.14" y1="1529.85" y2="1541.6"/>
<line x1="1226.34" x2="1226.34" y1="1529.85" y2="1541.6"/>
<line x1="1236.55" x2="1236.55" y1="1529.85" y2="1541.6"/>
<line x1="1246.75" x2="1246.75" y1="1529.85" y2="1541.6"/>
<line x1="1256.95" x2="1256.95" y1="1529.85" y2="1541.6"/>
<line x1="1267.16" x2="1267.16" y1="1529.85" y2="1541.6"/>
<line x1="1277.36" x2="1277.36" y1="1529.85" y2="1541.6"/>
<line x1="1287.56" x2="1287.56" y1="1529.85" y2="1541.6"/>
<line x1="1297.77" x2="1297.77" y1="1529.85" y2="1541.6"/>
<line x1="1307.97" x2="1307.97" y1="1529.85" y2="1541.6"/>
<line x1="1318.17" x2="1318.17" y1="1529.85" y2="1541.6"/>
<line x1="1328.38" x2="1328.38" y1="1529.85" y2="1541.6"/>
<line x1="1338.58" x2="1338.58" y1="1529.85" y2="1541.6"/>
<line x1="1348.78" x2="1348.78" y1="1529.85" y2="1541.6"/>
<line x1="1358.98" x2="1358.98" y1="1529.85" y2="1541.6"/>
<line x1="1369.19" x2="1369.19" y1="1529.85" y2="1541.6"/>
<line x1="1379.39" x2="1379.39" y1="1529.85" y2="1541.6"/>
<line x1="1389.59" x2="1389.59" y1="1529.85" y2="1541.6"/>
<line x1="1399.8" x2="1399.8" y1="1529.85" y2="1541.6"/>
<line x1="1410" x2="1410" y1="1529.85" y2="1541.6"/>
<line x1="1420.2" x2="1420.2" y1="1529.85" y2="1541.6"/>
<line x1="1430.4" x2="1430.4" y1="1529.85" y2="1541.6"/>
<line x1="1440.61" x2="1440.61" y1="1529.85" y2="1541.6"/>
<line x1="1450.81" x2="1450.81" y1="1529.85" y2="1541.6"/>
<line x1="1461.01" x2="1461.01" y1="1529.85" y2="1541.6"/>
<line x1="1471.22" x2="1471.22" y1="1529.85" y2="1541.6"/>
<line x1="1481.42" x2="1481.42" y1="1529.85" y2="1541.6"/>
<line x1="1491.62" x2="1491.62" y1="1529.85" y2="1541.6"/>
<line x1="1501.83" x2="1501.83" y1="1529.85" y2="1541.6"/>
<line x1="1512.03" x2="1512.03" y1="1529.85" y2="1541.6"/>
<line x1="1522.23" x2="1522.23" y1="1529.85" y2="1541.6"/>
<line x1="1532.43" x2="1532.43" y1="1529.85" y2="1541.6"/>
<line x1="1542.64" x2="1542.64" y1="1529.85" y2="1541.6"/>
<line x1="1552.84" x2="1552.84" y1="1529.85" y2="1541.6"/>
<line x1="1563.04" x2="1563.04" y1="1529.85" y2="1541.6"/>
<line x1="1573.25" x2="1573.25" y1="1529.85" y2="1541.6"/>
<line x1="1583.45" x2="1583.45" y1="1529.85" y2="1541.6"/>
<line x1="1593.65" x2="1593.65" y1="1529.85" y2="1541.6"/>
<line x1="1603.86" x2="1603.86" y1="1529.85" y2="1541.6"/>
<line x1="1614.06" x2="1614.06" y1="1529.85" y2="1541.6"/>
<line x1="1624.26" x2="1624.26" y1="1529.85" y2="1541.6"/>
<line x1="1634.46" x2="1634.46" y1="1529.85" y2="1541.6"/>
<line x1="1644.67" x2="1644.67" y1="1529.85" y2="1541.6"/>
<line x1="1654.87" x2="1654.87" y1="1529.85" y2="1541.6"/>
<line x1="1665.07" x2="1665.07" y1="1529.85" y2="1541.6"/>
<line x1="1675.28" x2="1675.28" y1="1529.85" y2="1541.6"/>
<line x1="1685.48" x2="1685.48" y1="1529.85" y2="1541.6"/>
<line x1="1695.68" x2="1695.68" y1="1529.85" y2="1541.6"/>
<line x1="1705.89" x2="1705.89" y1="1529.85" y2="1541.6"/>
<line x1="1716.09" x2="1716.09" y1="1529.85" y2="1541.6"/>
<line x1="1726.29" x2="1726.29" y1="1529.85" y2="1541.6"/>
<line x1="1736.49" x2="1736.49" y1="1529.85" y2="1541.6"/>
<line x1="1746.7" x2="1746.7" y1="1529.85" y2="1541.6"/>
<line x1="1756.9" x2="1756.9" y1="1529.85" y2="1541.6"/>
<line x1="1767.1" x2="1767.1" y1="1529.85" y2="1541.6"/>
<line x1="1777.31" x2="1777.31" y1="1529.85" y2="1541.6"/>
<line x1="1787.51" x2="1787.51" y1="1529.85" y2="1541.6"/>
<line x1="1797.71" x2="1797.71" y1="1529.85" y2="1541.6"/>
<line x1="1807.92" x2="1807.92" y1="1529.85" y2="1541.6"/>
<line x1="1818.12" x2="1818.12" y1="1529.85" y2="1541.6"/>
<line x1="1828.32" x2="1828.32" y1="1529.85" y2="1541.6"/>
<line x1="1838.52" x2="1838.52" y1="1529.85" y2="1541.6"/>
<line x1="1848.73" x2="1848.73" y1="1529.85" y2="1541.6"/>
<line x1="1858.93" x2="1858.93" y1="1529.85" y2="1541.6"/>
<line x1="1869.13" x2="1869.13" y1="1529.85" y2="1541.6"/>
<line x1="1879.34" x2="1879.34" y1="1529.85" y2="1541.6"/>
<line x1="1889.54" x2="1889.54" y1="1529.85" y2="1541.6"/>
<line x1="1899.74" x2="1899.74" y1="1529.85" y2="1541.6"/>
<line x1="1909.95" x2="1909.95" y1="1529.85" y2="1541.6"/>
<line x1="1920.15" x2="1920.15" y1="1529.85" y2="1541.6"/>
<line x1="1930.35" x2="1930.35" y1="1529.85" y2="1541.6"/>
<line x1="1940.55" x2="1940.55" y1="1529.85" y2="1541.6"/>
<line x1="1950.76" x2="1950.76" y1="1529.85" y2="1541.6"/>
<line x1="1960.96" x2="1960.96" y1="1529.85" y2="1541.6"/>
<line x1="137.49" x2="148.95" y1="1464.9" y2="1464.9"/>
<line x1="137.49" x2="148.95" y1="1041.6" y2="1041.6"/>
<line x1="137.49" x2="148.95" y1="618.3" y2="618.3"/>
<line x1="137.49" x2="148.95" y1="195" y2="195"/>
</g>
<g class="yl">
<text x="128.3" y="1478.9">0.0</text>
<text x="128.3" y="1054.9">0.2</text>
<text x="128.3" y="631.9">0.4</text>
<text x="128.3" y="207.9">0.6</text>
</g>
<g class="xl">
<text x="155.03" y="1578">Afghanistan</text>
<text x="165.23" y="1578">Albania</text>
<text x="175.44" y="1578">Algeria</text>
<text x="185.64" y="1578">Andorra</text>
<text x="195.84" y="1578">Angola</text>
<text x="206.05" y="1578">Argentina</text>
<text x="216.25" y="1578">Armenia</text>
<text x="226.45" y="1578">Australia</text>
<text x="236.65" y="1578">Austria</text>
<text x="246.86" y="1578">Azerbaijan</text>
<text x="257.06" y="1578">Bahamas</text>
<text x="267.26" y="1578">Bahrain</text>
<text x="277.47" y="1578">Bangladesh</text>
<text x="287.67" y="1578">Barbados</text>
<text x="297.87" y="1578">Belgium</text>
<text x="308.07" y="1578">Belize</text>
<text x="318.28" y="1578">Benin</text>
<text x="328.48" y="1578">Bhutan</text>
<text x="338.68" y="1578">Bolivia</text>
<text x="348.89" y="1578">Bosnia &amp; Herzegovina</text>
<text x="359.09" y="1578">Botswana</text>
<text x="369.29" y="1578">Brazil</text>
<text x="379.5" y="1578">Brunei</text>
<text x="389.7" y="1578">Bulgaria</text>
<text x="399.9" y="1578">Burkina Faso</text>
<text x="410.11" y="1578">Burundi</text>
<text x="420.31" y="1578">Cambodia</text>
<text x="430.51" y="1578">Cameroon</text>
<text x="440.71" y="1578">Canada</text>
<text x="450.92" y="1578">Chile</text>
<text x="461.12" y="1578">China</text>
<text x="471.32" y="1578">Colombia</text>
<text x="481.53" y="1578">Comoros</text>
<text x="491.73" y="1578">Congo - Brazzaville</text>
<text x="501.93" y="1578">Congo - Kinshasa</text>
<text x="512.13" y="1578">Costa Rica</text>
<text x="522.34" y="1578">Côte d’Ivoire</text>
<text x="532.54" y="1578">Croatia</text>
<text x="542.74" y="1578">Cuba</text>
<text x="552.95" y="1578">Cyprus</text>
<text x="563.15" y="1578">Czechia</text>
<text x="573.35" y="1578">Denmark</text>
<text x="583.56" y="1578">Djibouti</text>
<text x="593.76" y="1578">Dominica</text>
<text x="603.96" y="1578">Dominican Republic</text>
<text x="614.16" y="1578">Ecuador</text>
<text x="624.37" y="1578">Egypt</text>
<text x="634.57" y="1578">El Salvador</text>
<text x="644.77" y="1578">Equatorial Guinea</text>
<text x="654.98" y="1578">Eritrea</text>
<text x="665.18" y="1578">Estonia</text>
<text x="675.38" y="1578">Ethiopia</text>
<text x="685.59" y="1578">Fiji</text>
<text x="695.79" y="1578">Finland</text>
<text x="705.99" y="1578">France</text>
<text x="716.19" y="1578">Gabon</text>
<text x="726.4" y="1578">Gambia</text>
<text x="736.6" y="1578">Georgia</text>
<text x="746.8" y="1578">Germany</text>
<text x="757.01" y="1578">Ghana</text>
<text x="767.21" y="1578">Greece</text>
<text x="777.41" y="1578">Grenada</text>
<text x="787.62" y="1578">Guatemala</text>
<text x="797.82" y="1578">Guinea</text>
<text x="808.02" y="1578">Guinea-Bissau</text>
<text x="818.22" y="1578">Guyana</text>
<text x="828.43" y="1578">Haiti</text>
<text x="838.63" y="1578">Honduras</text>
<text x="848.83" y="1578">Hungary</text>
<text x="859.04" y="1578">Iceland</text>
<text x="869.24" y="1578">India</text>
<text x="879.44" y="1578">Indonesia</text>
<text x="889.65" y="1578">Iran</text>
<text x="899.85" y="1578">Iraq</text>
<text x="910.05" y="1578">Ireland</text>
<text x="920.25" y="1578">Israel</text>
<text x="930.46" y="1578">Italy</text>
<text x="940.66" y="1578">Jamaica</text>
<text x="950.86" y="1578">Japan</text>
<text x="961.07" y="1578">Jordan</text>
<text x="971.27" y="1578">Kazakhstan</text>
<text x="981.47" y="1578">Kenya</text>
<text x="991.68" y="1578">Kiribati</text>
<text x="1001.88" y="1578">Kuwait</text>
<text x="1012.08" y="1578">Kyrgyzstan</text>
<text x="1022.28" y="1578">Laos</text>
<text x="1032.49" y="1578">Latvia</text>
<text x="1042.69" y="1578">Lebanon</text>
<text x="1052.89" y="1578">Lesotho</text>
<text x="1063.1" y="1578">Liberia</text>
<text x="1073.3" y="1578">Libya</text>
<text x="1083.5" y="1578">Liechtenstein</text>
<text x="1093.71" y="1578">Lithuania</text>
<text x="1103.91" y="1578">Luxembourg</text>
<text x="1114.11" y="1578">Madagascar</text>
<text x="1124.32" y="1578">Malawi</text>
<text x="1134.52" y="1578">Malaysia</text>
<text x="1144.72" y="1578">Maldives</text>
<text x="1154.92" y="1578">Mali</text>
<text x="1165.13" y="1578">Malta</text>
<text x="1175.33" y="1578">Mauritania</text>
<text x="1185.53" y="1578">Mexico</text>
<text x="1195.74" y="1578">Micronesia</text>
<text x="1205.94" y="1578">Moldova</text>
<text x="1216.14" y="1578">Monaco</text>
<text x="1226.34" y="1578">Mongolia</text>
<text x="1236.55" y="1578">Montenegro</text>
<text x="1246.75" y="1578">Morocco</text>
<text x="1256.95" y="1578">Mozambique</text>
<text x="1267.16" y="1578">Myanmar (Burma)</text>
<text x="1277.36" y="1578">Namibia</text>
<text x="1287.56" y="1578">Nauru</text>
<text x="1297.77" y="1578">Nepal</text>
<text x="1307.97" y="1578">Netherlands</text>
<text x="1318.17" y="1578">New Zealand</text>
<text x="1328.38" y="1578">Nicaragua</text>
<text x="1338.58" y="1578">Niger</text>
<text x="1348.78" y="1578">Nigeria</text>
<text x="1358.98" y="1578">North Korea</text>
<text x="1369.19" y="1578">Norway</text>
<text x="1379.39" y="1578">Oman</text>
<text x="1389.59" y="1578">Pakistan</text>
<text x="1399.8" y="1578">Palau</text>
<text x="1410" y="1578">Panama</text>
<text x="1420.2" y="1578">Paraguay</text>
<text x="1430.4" y="1578">Peru</text>
<text x="1440.61" y="1578">Philippines</text>
<text x="1450.81" y="1578">Poland</text>
<text x="1461.01" y="1578">Portugal</text>
<text x="1471.22" y="1578">Qatar</text>
<text x="1481.42" y="1578">Romania</text>
<text x="1491.62" y="1578">Russia</text>
<text x="1501.83" y="1578">Rwanda</text>
<text x="1512.03" y="1578">Samoa</text>
<text x="1522.23" y="1578">San Marino</text>
<text x="1532.43" y="1578">São Tomé &amp; Príncipe</text>
<text x="1542.64" y="1578">Saudi Arabia</text>
<text x="1552.84" y="1578">Senegal</text>
<text x="1563.04" y="1578">Serbia</text>
<text x="1573.25" y="1578">Seychelles</text>
<text x="1583.45" y="1578">Sierra Leone</text>
<text x="1593.65" y="1578">Singapore</text>
<text x="1603.86" y="1578">Slovakia</text>
<text x="1614.06" y="1578">Slovenia</text>
<text x="1624.26" y="1578">Solomon Islands</text>
<text x="1634.46" y="1578">Somalia</text>
<text x="1644.67" y="1578">South Africa</text>
<text x="1654.87" y="1578">South Korea</text>
<text x="1665.07" y="1578">Spain</text>
<text x="1675.28" y="1578">Sri Lanka</text>
<text x="1685.48" y="1578">St. Lucia</text>
<text x="1695.68" y="1578">Sudan</text>
<text x="1705.89" y="1578">Suriname</text>
<text x="1716.09" y="1578">Sweden</text>
<text x="1726.29" y="1578">Switzerland</text>
<text x="1736.49" y="1578">Syria</text>
<text x="1746.7" y="1578">Tajikistan</text>
<text x="1756.9" y="1578">Tanzania</text>
<text x="1767.1" y="1578">Thailand</text>
<text x="1777.31" y="1578">Togo</text>
<text x="1787.51" y="1578">Tonga</text>
<text x="1797.71" y="1578">Trinidad &amp; Tobago</text>
<text x="1807.92" y="1578">Tunisia</text>
<text x="1818.12" y="1578">Turkey</text>
<text x="1828.32" y="1578">Turkmenistan</text>
<text x="1838.52" y="1578">Uganda</text>
<text x="1848.73" y="1578">Ukraine</text>
<text x="1858.93" y="1578">United Arab Emirates</text>
<text x="1869.13" y="1578">United Kingdom</text>
<text x="1879.34" y="1578">United States</text>
<text x="1889.54" y="1578">Uruguay</text>
<text x="1899.74" y="1578">Uzbekistan</text>
<text x="1909.95" y="1578">Vanuatu</text>
<text x="1920.15" y="1578">Venezuela</text>
<text x="1930.35" y="1578">Vietnam</text>
<text x="1940.55" y="1578">Yemen</text>
<text x="1950.76" y="1578">Zambia</text>
<text x="1960.96" y="1578">Zimbabwe</text>
</g>
<text class="ttl" x="148.95" y="63">Regression Plot</text>
<text class="ax" x="1057.97" y="1629.9">Country</text>
<text class="ax" transform="translate(56,814.38) rotate(-90)">Topic Lat. American governance</text>
</svg></body></html>
